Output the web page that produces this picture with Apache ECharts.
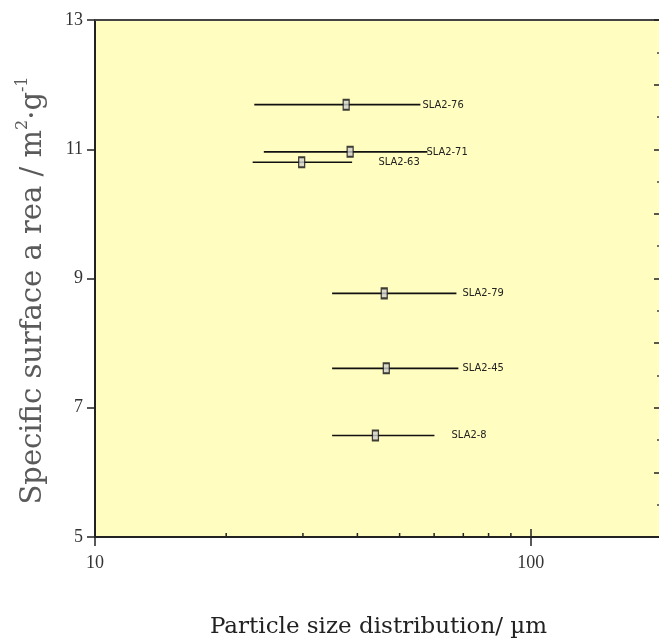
<!DOCTYPE html>
<html>
<head>
<meta charset="utf-8">
<script src="https://cdn.jsdelivr.net/npm/echarts@6/dist/echarts.min.js"></script>
<style>
html, body { margin: 0; padding: 0; background: #fff; }
#main { width: 659px; height: 642px; }
</style>
</head>
<body>
<div id="main"></div>
<script>
// samples
var labels = ['SLA2-76', 'SLA2-71', 'SLA2-63', 'SLA2-79', 'SLA2-45', 'SLA2-8'];
var sizeMid = [37.7, 38.5, 29.8, 46.1, 46.6, 44.0];
var sizeLow = [23.2, 24.4, 23.0, 35.0, 35.0, 35.0];
var sizeHigh = [55.8, 57.9, 38.9, 67.5, 68.2, 60.1];
var area = [11.69, 10.96, 10.80, 8.77, 7.61, 6.57];
var labelAt = [56.4, 57.6, 44.7, 69.7, 69.7, 65.8];
var xMinorTicks = [20, 30, 40, 50, 60, 70, 80, 90];

var serif = 'Liberation Serif, DejaVu Serif, serif';
var wideSerif = 'DejaVu Serif, Liberation Serif, serif';

var chart = echarts.init(document.getElementById('main'));

var option = {
    backgroundColor: '#fff',
    animation: false,
    grid: {
        left: 95, top: 20, right: -3, bottom: 105,
        show: true, backgroundColor: '#FFFDBF', borderWidth: 0,
        outerBoundsMode: 'none'
    },
    xAxis: [
        {
            type: 'log', logBase: 10, min: 10, max: 200, position: 'bottom',
            axisLine: { lineStyle: { color: '#222', width: 2 } },
            axisTick: { inside: false, length: 9, lineStyle: { color: '#222', width: 1.5 } },
            axisLabel: { fontFamily: serif, fontSize: 18, color: '#333', margin: 17, showMaxLabel: false },
            splitLine: { show: false },
            name: 'Particle size distribution/ µm',
            nameLocation: 'middle', nameGap: 79,
            nameTextStyle: { fontFamily: wideSerif, fontSize: 23, color: '#222' }
        },
        {
            type: 'log', logBase: 10, min: 10, max: 200, position: 'bottom',
            axisLine: { show: false },
            axisTick: { inside: true, length: 8, lineStyle: { color: '#222', width: 1.5 } },
            axisLabel: { show: false },
            splitLine: { show: false }
        },
        {
            type: 'log', logBase: 10, min: 10, max: 200, position: 'top',
            axisLine: { lineStyle: { color: '#444', width: 2 } },
            axisTick: { show: false },
            axisLabel: { show: false },
            splitLine: { show: false }
        }
    ],
    yAxis: [
        {
            type: 'value', min: 5, max: 13, interval: 2, position: 'left',
            axisLine: { show: true, lineStyle: { color: '#222', width: 2 } },
            axisTick: { show: true, inside: false, length: 8, lineStyle: { color: '#222', width: 1.5 } },
            axisLabel: { fontFamily: serif, fontSize: 18, color: '#333', margin: 12 },
            splitLine: { show: false },
            name: 'Specific surface a rea / m{sup|2}·g{sup|-1}',
            nameLocation: 'middle', nameGap: 44, nameRotate: 90,
            nameTextStyle: {
                fontFamily: wideSerif, fontSize: 29, color: '#5a5a5a', lineHeight: 36,
                padding: [0, 24, 0, 0],
                rich: {
                    sup: { fontFamily: wideSerif, fontSize: 16, color: '#5a5a5a', verticalAlign: 'top', lineHeight: 36 }
                }
            }
        },
        {
            type: 'value', min: 5, max: 13, interval: 1, position: 'right',
            axisLine: { show: true, lineStyle: { color: '#333', width: 2 } },
            axisTick: { show: true, inside: true, length: 8, lineStyle: { color: '#222', width: 1.5 } },
            minorTick: { show: true, splitNumber: 2, length: 5, lineStyle: { color: '#444', width: 1.5 } },
            axisLabel: { show: false },
            splitLine: { show: false }
        }
    ],
    series: [
        {
            // horizontal spread bars
            type: 'custom',
            xAxisIndex: 0, yAxisIndex: 0,
            data: labels.map(function (n, i) { return [sizeLow[i], sizeHigh[i], area[i]]; }),
            encode: { x: [0, 1], y: 2 },
            renderItem: function (params, api) {
                var a = api.coord([api.value(0), api.value(2)]);
                var b = api.coord([api.value(1), api.value(2)]);
                return {
                    type: 'line',
                    shape: { x1: a[0], y1: a[1], x2: b[0], y2: b[1] },
                    style: { stroke: '#111', lineWidth: 1.6 }
                };
            },
            z: 3
        },
        {
            type: 'scatter',
            xAxisIndex: 0, yAxisIndex: 0,
            data: sizeMid.map(function (v, i) { return [v, area[i]]; }),
            symbol: 'rect',
            symbolSize: [6, 10],
            itemStyle: { color: '#cfcfcf', borderColor: '#111', borderWidth: 1.6 },
            z: 5
        },
        {
            type: 'custom',
            xAxisIndex: 0, yAxisIndex: 0,
            data: labelAt.map(function (v, i) { return [v, area[i], labels[i]]; }),
            renderItem: function (params, api) {
                var p = api.coord([api.value(0), api.value(1)]);
                return {
                    type: 'text',
                    x: p[0], y: p[1],
                    style: {
                        text: labels[params.dataIndex],
                        fill: '#222',
                        font: '11px "DejaVu Sans Condensed", "Liberation Sans Narrow", sans-serif',
                        align: 'left', verticalAlign: 'middle'
                    }
                };
            },
            z: 4
        },
        {
            // minor ticks of the log axis at 20..90
            type: 'custom',
            xAxisIndex: 0, yAxisIndex: 0,
            data: xMinorTicks.map(function (v) { return [v, 5]; }),
            renderItem: function (params, api) {
                var p = api.coord([api.value(0), api.value(1)]);
                return {
                    type: 'line',
                    shape: { x1: p[0], y1: p[1], x2: p[0], y2: p[1] - 4 },
                    style: { stroke: '#222', lineWidth: 1.5 }
                };
            },
            clip: false,
            z: 6
        }
    ]
};

chart.setOption(option);
</script>
</body>
</html>
